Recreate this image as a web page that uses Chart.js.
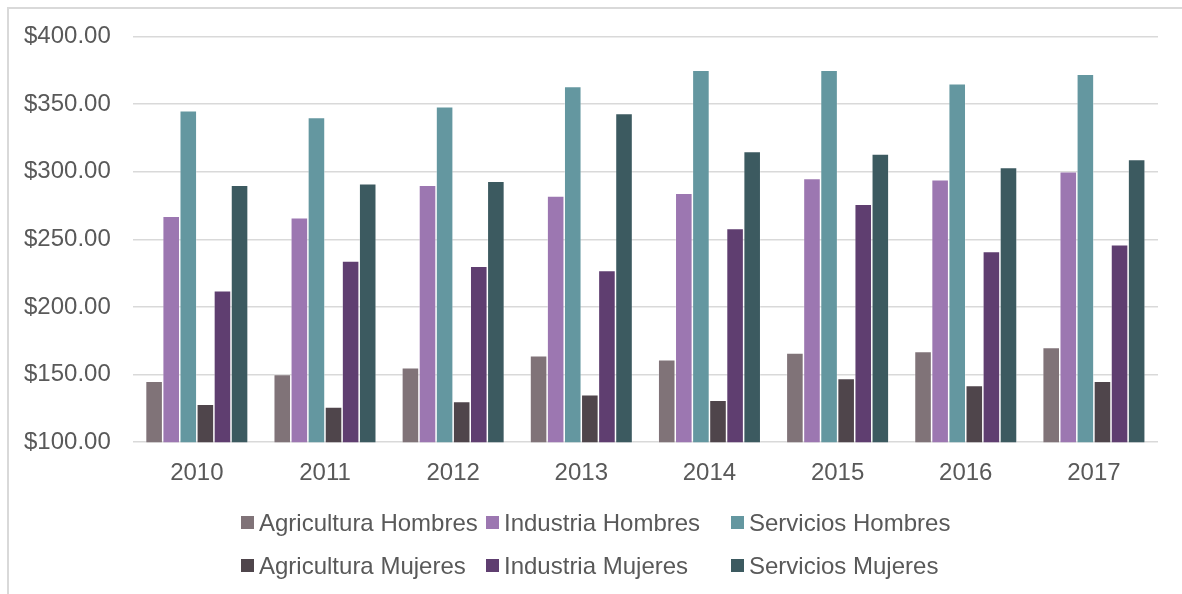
<!DOCTYPE html>
<html>
<head>
<meta charset="utf-8">
<script src="https://cdn.jsdelivr.net/npm/chart.js@4"></script>
<style>
  html, body { margin: 0; padding: 0; background: #fff; }
  body { width: 1182px; height: 594px; position: relative; overflow: hidden; font-family: "Liberation Sans", Arial, sans-serif; }
  #frame { position: absolute; left: 7px; top: 7px; width: 1200px; height: 620px; border: 2px solid #d9d9d9; box-sizing: border-box; }
  #chart { position: absolute; left: 0; top: 0; }
  #legend { position: absolute; left: 241px; top: 501px; }
  .row { display: flex; height: 43px; align-items: center; }
  .item { width: 245px; display: flex; align-items: center; color: #595959; font-size: 24px; white-space: nowrap; }
  .box { width: 13px; height: 13px; margin-right: 5px; flex: none; }
</style>
</head>
<body>
<div id="frame"></div>
<canvas id="chart" width="1182" height="594"></canvas>
<div id="legend"></div>
<script>
// años y salarios por sector y sexo
const years = ['2010', '2011', '2012', '2013', '2014', '2015', '2016', '2017']

const agriculturaHombres = [145, 150, 155, 164, 161, 166, 167, 170]
const industriaHombres   = [267, 266, 290, 282, 284, 295, 294, 300]
const serviciosHombres   = [345, 340, 348, 363, 375, 375, 365, 372]
const agriculturaMujeres = [128, 126, 130, 135, 131, 147, 142, 145]
const industriaMujeres   = [212, 234, 230, 227, 258, 276, 241, 246]
const serviciosMujeres   = [290, 291, 293, 343, 315, 313, 303, 309]

const yTicks = { min: 100, max: 400, step: 50 }

const series = [
  { label: 'Agricultura Hombres', data: agriculturaHombres, color: '#807378' },
  { label: 'Industria Hombres',   data: industriaHombres,   color: '#9c77b1' },
  { label: 'Servicios Hombres',   data: serviciosHombres,   color: '#6497a0' },
  { label: 'Agricultura Mujeres', data: agriculturaMujeres, color: '#4f454b' },
  { label: 'Industria Mujeres',   data: industriaMujeres,   color: '#5f3e70' },
  { label: 'Servicios Mujeres',   data: serviciosMujeres,   color: '#3c5a60' }
]

const textColor = '#595959'
const gridColor = '#d9d9d9'
const font = { family: '"Liberation Sans", Arial, sans-serif', size: 24 }

new Chart(document.getElementById('chart').getContext('2d'), {
  type: 'bar',
  data: {
    labels: years,
    datasets: series.map(s => ({
      label: s.label,
      data: s.data,
      backgroundColor: s.color,
      borderColor: 'rgba(255, 255, 255, 0.45)',
      borderWidth: 0.75,
      barPercentage: 1,
      categoryPercentage: 0.8
    }))
  },
  options: {
    responsive: false,
    animation: false,
    events: [],
    layout: { padding: { left: 2, top: 27, right: 24, bottom: 89 } },
    plugins: {
      legend: { display: false },
      tooltip: { enabled: false }
    },
    scales: {
      x: {
        grid: { display: false, drawTicks: false },
        border: { display: false },
        ticks: { color: textColor, font: font, padding: 17 }
      },
      y: {
        min: yTicks.min,
        max: yTicks.max,
        grid: { color: gridColor, lineWidth: 1.5, drawTicks: false },
        border: { display: false },
        ticks: {
          stepSize: yTicks.step,
          color: textColor,
          font: font,
          padding: 22,
          callback: (v) => '$' + v.toFixed(2)
        }
      }
    }
  }
})

// leyenda en dos filas con columnas fijas
const legend = document.getElementById('legend')
for (let r = 0; r < 2; r++) {
  const row = document.createElement('div')
  row.className = 'row'
  series.slice(r * 3, r * 3 + 3).forEach(s => {
    const item = document.createElement('div')
    item.className = 'item'
    const box = document.createElement('span')
    box.className = 'box'
    box.style.background = s.color
    item.appendChild(box)
    item.appendChild(document.createTextNode(s.label))
    row.appendChild(item)
  })
  legend.appendChild(row)
}
</script>
</body>
</html>
